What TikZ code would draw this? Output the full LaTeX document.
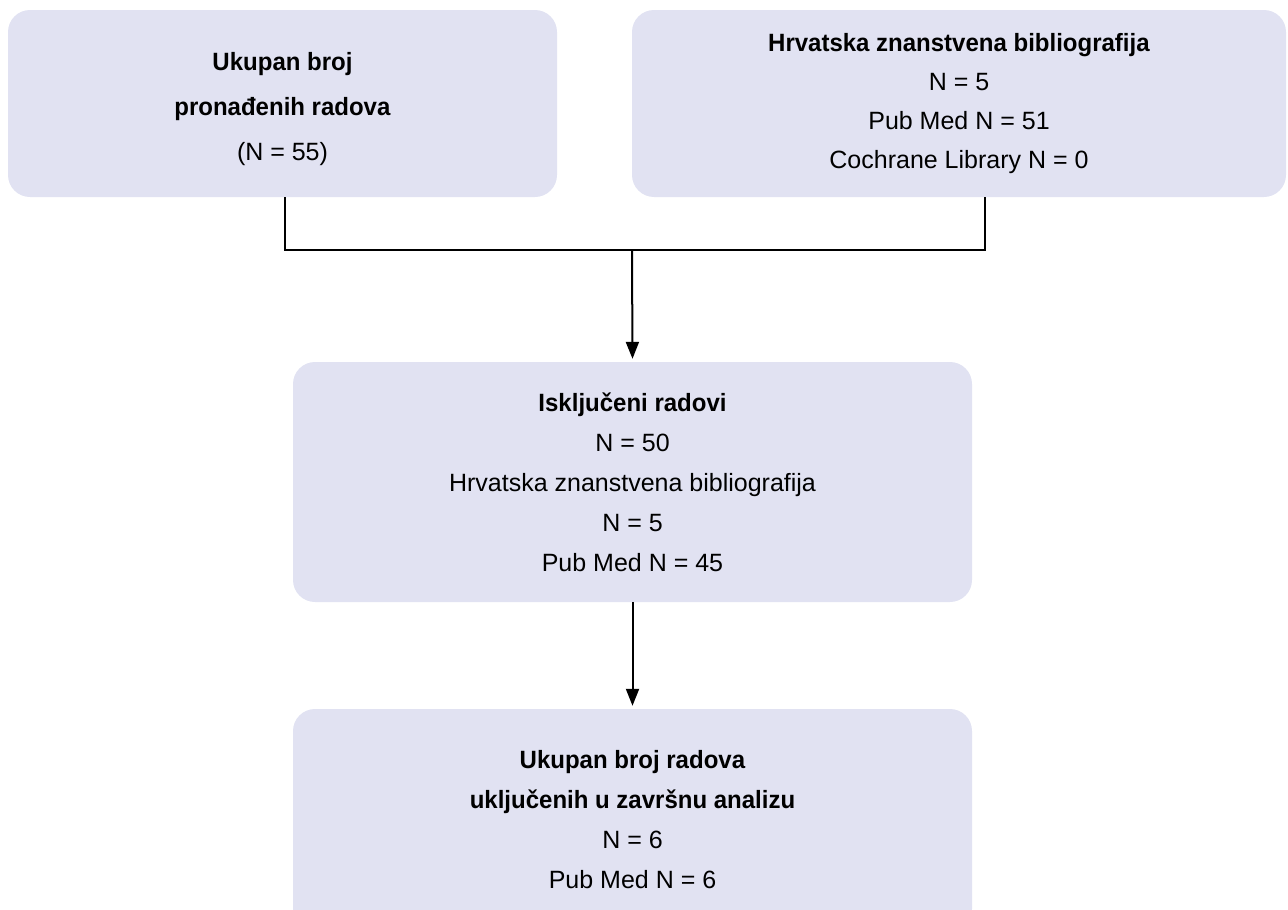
\documentclass[tikz,border=0pt]{standalone}
\usepackage{fontspec}
\setmainfont{Liberation Sans}[BoldFeatures={FakeStretch=0.96}]
\usetikzlibrary{arrows.meta}
\definecolor{boxfill}{HTML}{E1E2F2}
\tikzset{
  font={\fontsize{25pt}{40pt}\selectfont}}

\begin{document}
\begin{tikzpicture}[x=1pt,y=-1pt]
\tikzstyle{every node}+=[inner sep=0pt]
\tikzstyle{box}=[fill=boxfill, rounded corners=22pt, align=center]
\tikzstyle{link}=[black, line width=2pt]
\tikzstyle{into}=[-{Triangle[width=13pt,length=17pt]}, shorten >=3pt]
\clip (0,0) rectangle (1288,910);
\node [box, minimum width=549pt, minimum height=187pt, font={\fontsize{25pt}{45pt}\selectfont}] (found) at (282.5,103.5)
  {\rule{0pt}{30pt}\textbf{Ukupan broj}\\ \textbf{pronađenih radova}\\ (N = 55)};
\node [box, minimum width=654pt, minimum height=187pt, font={\fontsize{25pt}{39pt}\selectfont}] (source) at (959,103.5)
  {\textbf{Hrvatska znanstvena bibliografija}\\ N = 5\\ Pub Med N = 51\\ Cochrane Library N = 0};
\node [box, minimum width=679pt, minimum height=240pt] (excluded) at (632.5,482)
  {\textbf{Isključeni radovi}\\ N = 50\\ Hrvatska znanstvena bibliografija\\ N = 5\\ Pub Med N = 45};
\node [box, minimum width=679pt, minimum height=222pt] (included) at (632.5,820)
  {\textbf{Ukupan broj radova}\\ \textbf{uključenih u završnu analizu}\\ N = 6\\ Pub Med N = 6};
\coordinate (merge) at (632,250);
\draw [link] ([xshift=2.5pt]found.south) |- (merge) -| ([xshift=26pt]source.south);
\draw [link, into] (merge) -- (excluded.north);
\draw [link, into] (excluded.south) -- (included.north);
\end{tikzpicture}
\end{document}
